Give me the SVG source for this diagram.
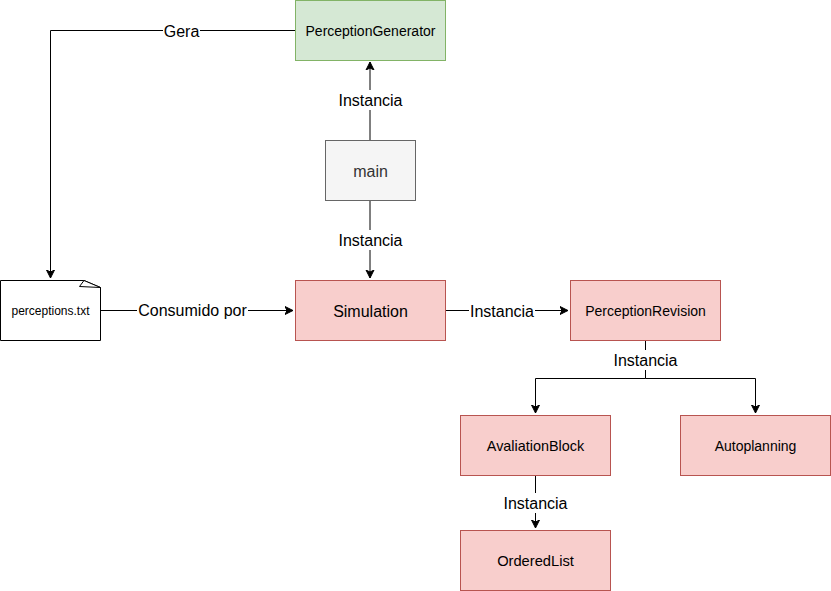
<svg xmlns="http://www.w3.org/2000/svg" width="831" height="591" viewBox="0 0 831 591">
<defs>
<marker id="arr" markerWidth="10" markerHeight="10" refX="8" refY="5" orient="auto" markerUnits="userSpaceOnUse">
<path d="M0,1 L8,5 L0,9 L2,5 Z" fill="#000" stroke="#000" stroke-width="1"/>
</marker>
<style>
text{font-family:"Liberation Sans",Arial,Helvetica,sans-serif;text-anchor:middle;dominant-baseline:central;fill:#000}
.red{fill:#f8cecc;stroke:#b85450;stroke-width:1}
.green{fill:#d5e8d4;stroke:#82b366;stroke-width:1}
.gray{fill:#f5f5f5;stroke:#666666;stroke-width:1}
.edge{fill:none;stroke:#000;stroke-width:1}
.lbl{font-size:16px}
.lblbg{fill:#fff}
</style>
</defs>
<rect width="831" height="591" fill="#fff"/>
<g id="connectors">
<path class="edge" d="M370,140 V62" marker-end="url(#arr)"/>
<path class="edge" d="M370,200 V278" marker-end="url(#arr)"/>
<path class="edge" d="M295,30.5 H50.5 V278" marker-end="url(#arr)"/>
<path class="edge" d="M100,310.5 H293" marker-end="url(#arr)"/>
<path class="edge" d="M445,310.5 H568" marker-end="url(#arr)"/>
<path class="edge" d="M645.5,340 V378.5 H535.5 V413" marker-end="url(#arr)"/>
<path class="edge" d="M645.5,378.5 H755.5 V413" marker-end="url(#arr)"/>
<path class="edge" d="M535.5,475 V528" marker-end="url(#arr)"/>
<rect class="lblbg" x="337" y="90" width="67" height="20"/>
<text class="lbl" x="370.5" y="100">Instancia</text>
<rect class="lblbg" x="337" y="230" width="67" height="20"/>
<text class="lbl" x="370.5" y="240">Instancia</text>
<rect class="lblbg" x="163" y="21" width="37" height="20"/>
<text class="lbl" x="181.5" y="31">Gera</text>
<rect class="lblbg" x="137" y="300" width="111" height="20"/>
<text class="lbl" x="192.5" y="310">Consumido por</text>
<rect class="lblbg" x="469" y="301" width="66" height="20"/>
<text class="lbl" x="502" y="311">Instancia</text>
<rect class="lblbg" x="612" y="350" width="67" height="20"/>
<text class="lbl" x="645.5" y="360">Instancia</text>
<rect class="lblbg" x="502" y="493" width="67" height="20"/>
<text class="lbl" x="535.5" y="503">Instancia</text>
</g>
<g id="PerceptionGenerator">
<rect class="green" x="295.5" y="0.5" width="150" height="60"/>
<text x="370.5" y="31" font-size="14">PerceptionGenerator</text>
</g>
<g id="main">
<rect class="gray" x="325.5" y="140.5" width="90" height="60"/>
<text x="370.5" y="171" font-size="16" style="fill:#333333">main</text>
</g>
<g id="perceptions">
<path d="M0.5,280.5 H84 L100.5,287.5 V340.5 H0.5 Z" fill="#fff" stroke="#000" stroke-width="1"/>
<path d="M84,280.5 L79.5,286.5 L100.5,287.5 Z" fill="#fff" stroke="#000" stroke-width="1"/>
<text x="50.5" y="311" font-size="12">perceptions.txt</text>
</g>
<g id="Simulation">
<rect class="red" x="295.5" y="280.5" width="150" height="60"/>
<text x="370.5" y="311" font-size="16">Simulation</text>
</g>
<g id="PerceptionRevision">
<rect class="red" x="570.5" y="280.5" width="150" height="60"/>
<text x="645.5" y="311" font-size="14">PerceptionRevision</text>
</g>
<g id="AvaliationBlock">
<rect class="red" x="460.5" y="415.5" width="150" height="60"/>
<text x="535.5" y="446" font-size="14.4">AvaliationBlock</text>
</g>
<g id="Autoplanning">
<rect class="red" x="680.5" y="415.5" width="150" height="60"/>
<text x="755.5" y="446" font-size="14">Autoplanning</text>
</g>
<g id="OrderedList">
<rect class="red" x="460.5" y="530.5" width="150" height="60"/>
<text x="535.5" y="561" font-size="14.7">OrderedList</text>
</g>
</svg>
